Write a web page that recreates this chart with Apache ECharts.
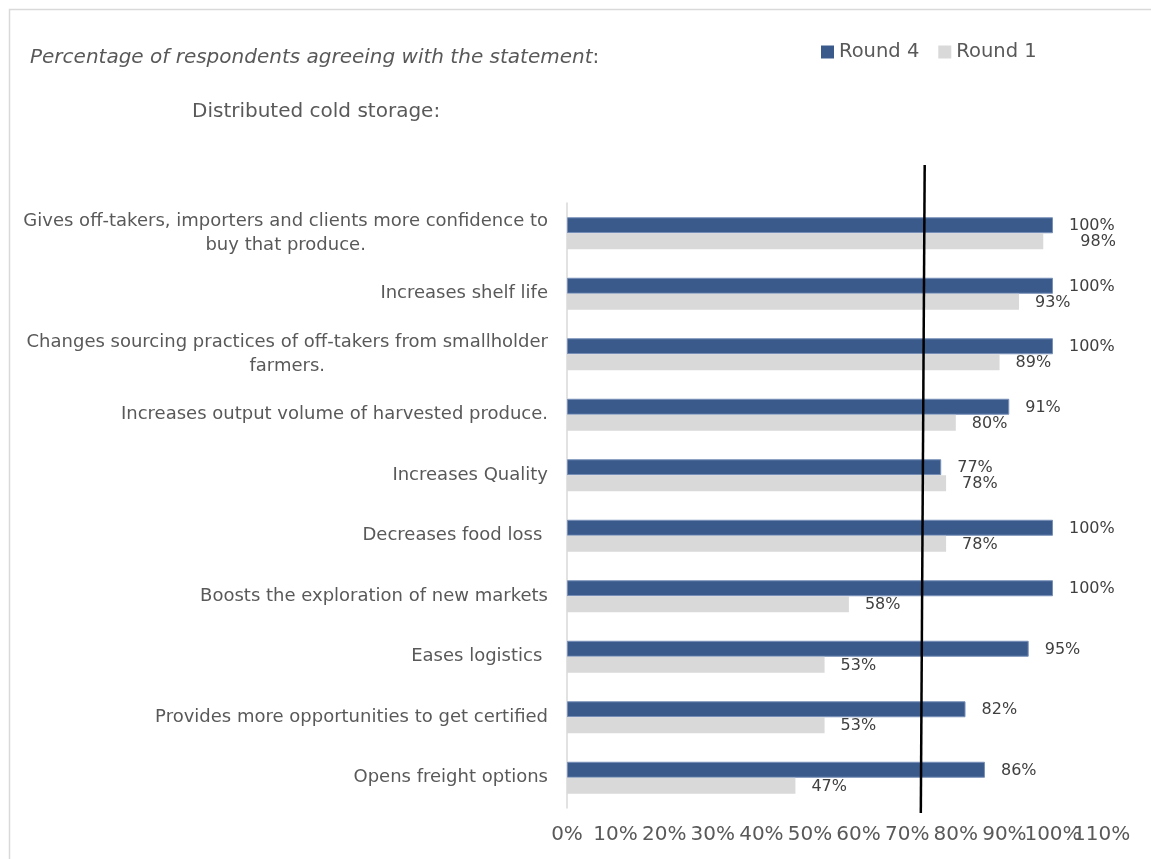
<!DOCTYPE html>
<html>
<head>
<meta charset="utf-8">
<script src="https://cdn.jsdelivr.net/npm/echarts@6/dist/echarts.min.js"></script>
<style>
html,body{margin:0;padding:0;background:#fff;}
#chart{width:1151px;height:859px;}
</style>
</head>
<body>
<div id="chart"></div>
<script>
const categories = [
  'Gives off-takers, importers and clients more confidence to\nbuy that produce.',
  'Increases shelf life',
  'Changes sourcing practices of off-takers from smallholder\nfarmers.',
  'Increases output volume of harvested produce.',
  'Increases Quality',
  'Decreases food loss ',
  'Boosts the exploration of new markets',
  'Eases logistics ',
  'Provides more opportunities to get certified',
  'Opens freight options'
];
const round4 = [100, 100, 100, 91, 77, 100, 100, 95, 82, 86];
const round1 = [98, 93, 89, 80, 78, 78, 58, 53, 53, 47];
const xTicks = [0, 10, 20, 30, 40, 50, 60, 70, 80, 90, 100, 110];
const thresholdTop = 73.6;
const thresholdBottom = 72.8;

const FONT = 'DejaVu Sans';
const X_MIN = xTicks[0];
const X_MAX = xTicks[xTicks.length - 1];
const chart = echarts.init(document.getElementById('chart'), null, {renderer: 'canvas'});

const xLabelStyle = {fontFamily: FONT, fontSize: 20, color: '#595959', margin: 17};

// Round 1 labels: when the value is close to the Round 4 value at 100%,
// the label is right-aligned with the Round 4 label (as in the source figure).
const round1Data = round1.map(function (v, i) {
  if (round4[i] === 100 && v >= 97) {
    return {value: v, label: {offset: [21, 1]}};
  }
  return v;
});

const option = {
  backgroundColor: '#ffffff',
  animation: false,
  textStyle: {fontFamily: FONT},
  title: [
    {
      text: '{i|Percentage of respondents agreeing with the statement}{n|:}',
      left: 25, top: 43,
      textStyle: {
        fontWeight: 'normal',
        rich: {
          i: {fontFamily: FONT, fontStyle: 'italic', fontWeight: 'normal', fontSize: 20, color: '#595959'},
          n: {fontFamily: FONT, fontWeight: 'normal', fontSize: 20, color: '#595959'}
        }
      }
    },
    {
      text: 'Distributed cold storage:',
      left: 187, top: 97,
      textStyle: {fontFamily: FONT, fontSize: 20, fontWeight: 'normal', color: '#595959'}
    }
  ],
  legend: {
    data: ['Round 4', 'Round 1'],
    left: 816, top: 37,
    icon: 'rect',
    itemWidth: 13, itemHeight: 13,
    itemGap: 19,
    itemStyle: {borderWidth: 0},
    textStyle: {fontFamily: FONT, fontSize: 19.5, color: '#595959'}
  },
  grid: {left: 567, right: 49.4, top: 203, bottom: 51, containLabel: false, outerBoundsMode: 'none'},
  xAxis: [
    {
      type: 'value',
      min: X_MIN, max: X_MAX, interval: 10,
      axisLine: {show: false},
      axisTick: {show: false},
      splitLine: {show: false},
      axisLabel: Object.assign({
        formatter: '{value}%',
        hideOverlap: false,
        showMinLabel: true, showMaxLabel: false
      }, xLabelStyle)
    },
    {
      type: 'value',
      position: 'bottom',
      min: X_MIN, max: X_MAX, interval: 10,
      axisLine: {show: false},
      axisTick: {show: false},
      splitLine: {show: false},
      axisLabel: Object.assign({
        formatter: function (v) { return v === X_MAX ? v + '%' : ''; },
        hideOverlap: false,
        showMinLabel: false, showMaxLabel: true
      }, xLabelStyle)
    }
  ],
  yAxis: {
    type: 'category',
    data: categories,
    inverse: true,
    axisLine: {show: true, lineStyle: {color: '#D9D9D9', width: 1.5}},
    axisTick: {show: false},
    splitLine: {show: false},
    axisLabel: {
      margin: 19,
      align: 'right',
      lineHeight: 24,
      formatter: function (v) {
        return v.split('\n').map(function (s) { return '{c|' + s + '}'; }).join('\n');
      },
      rich: {
        c: {align: 'center', fontFamily: FONT, fontSize: 18, color: '#595959', lineHeight: 24}
      }
    }
  },
  series: [
    {
      name: 'Round 4',
      type: 'bar',
      xAxisIndex: 0,
      data: round4,
      barWidth: 16,
      barGap: '0%',
      itemStyle: {color: '#3A5A8C', borderColor: '#7890B8', borderWidth: 1},
      label: {
        show: true, position: 'right', distance: 16,
        formatter: '{c}%', fontFamily: FONT, fontSize: 16, color: '#404040', offset: [0, 1]
      }
    },
    {
      name: 'Round 1',
      type: 'bar',
      xAxisIndex: 0,
      data: round1Data,
      barWidth: 16,
      barGap: '0%',
      itemStyle: {color: '#D9D9D9'},
      label: {
        show: true, position: 'right', distance: 16,
        formatter: '{c}%', fontFamily: FONT, fontSize: 16, color: '#404040', offset: [0, 1]
      }
    }
  ]
};

chart.setOption(option);

function drawOverlay() {
  const xTop = chart.convertToPixel({xAxisIndex: 0}, thresholdTop);
  const xBot = chart.convertToPixel({xAxisIndex: 0}, thresholdBottom);
  chart.setOption({
    graphic: [
      {
        type: 'polyline',
        shape: {points: [[1151, 9.5], [9.5, 9.5], [9.5, 859]]},
        style: {stroke: '#D9D9D9', lineWidth: 1.5, fill: null},
        silent: true
      },
      {
        type: 'line',
        shape: {x1: xTop, y1: 165, x2: xBot, y2: 813},
        style: {stroke: '#000000', lineWidth: 2.5},
        z: 100,
        silent: true
      }
    ]
  });
}
drawOverlay();
</script>
</body>
</html>
